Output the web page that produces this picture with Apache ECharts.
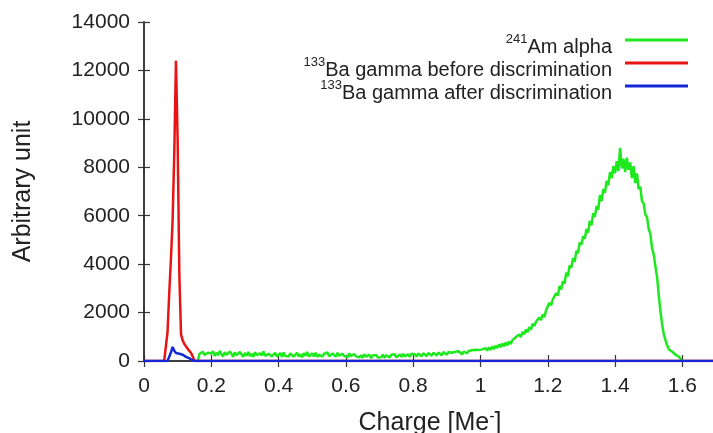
<!DOCTYPE html>
<html>
<head>
<meta charset="utf-8">
<script src="https://cdn.jsdelivr.net/npm/echarts@6/dist/echarts.min.js"></script>
<style>
html,body{margin:0;padding:0;background:#fff;}
#chart{width:713px;height:433px;}
</style>
</head>
<body>
<div id="chart"></div>
<script>
// ---- data ----
const xTicks = [0, 0.2, 0.4, 0.6, 0.8, 1, 1.2, 1.4, 1.6];
const yTicks = [0, 2000, 4000, 6000, 8000, 10000, 12000, 14000];
const seriesNames = ['241Am alpha', '133Ba gamma before discrimination', '133Ba gamma after discrimination'];
const seriesColors = ['#1ee81e', '#e81414', '#1428d8'];

// 241Am alpha: counts per bin, bins start at 0.160 with width 0.005
const amStart = 0.160;
const amStep = 0.005;
const amAlpha = [
  0,
  300, 220, 380, 250, 190, 340, 260,
  310, 400, 210, 340, 240, 420, 280, 190, 360, 250, 210, 390, 300, 170, 350, 240, 200, 380, 270, 180,
  330, 220, 370, 200, 300, 170, 360, 240, 190, 320, 230, 390, 210, 160, 300, 360, 190, 270, 340, 180,
  260, 330, 170, 350, 210, 290, 190, 310, 370, 180, 250, 340, 190, 280, 150, 320, 220, 370, 180, 260,
  310, 190, 340, 170, 260, 320, 180, 290, 220, 360, 200, 150, 310, 250, 180, 340, 220, 160, 300, 200,
  270, 160, 310, 200, 140, 290, 190, 250, 150, 240, 130, 280, 180, 140, 260, 120, 230, 160, 250, 140,
  220, 150, 270, 130, 240, 170, 140, 260, 190, 280, 150, 230, 270, 170, 290, 190, 240, 280, 170, 300,
  220, 280, 180, 310, 240, 200, 320, 250, 200, 330, 260, 220, 340, 270, 230, 350, 290, 240, 370, 300,
  260, 370, 290, 340, 270, 380, 300, 400, 330, 280, 390, 420, 320, 410, 350, 440, 360, 460, 380, 450,
  400, 480, 410, 530, 430, 560, 460, 600, 490, 630, 540, 680, 570, 720, 610, 760, 650, 810, 700, 860,
  850, 980, 900, 1100, 990, 1200, 1100, 1290, 1190, 1400, 1290, 1540, 1440, 1620, 1540, 1800, 1690, 1920, 1810, 2100,
  2150, 2400, 2300, 2550, 2480, 2800, 2700, 3100, 2950, 3300, 3200, 3650, 3500, 3950, 3850, 4250, 4100, 4550, 4450, 4900,
  4800, 5150, 5050, 5450, 5300, 5800, 5600, 6100, 5950, 6400, 6250, 6850, 6600, 7100, 6950, 7450, 7250, 7800, 7550, 8050,
  7750, 8250, 7850, 8800, 7950, 8350, 7800, 8400, 7900, 8200, 7550, 8050, 7350, 7750, 7100, 7200, 6600, 6500, 6050, 5950,
  5450, 5250, 4650, 4400, 3900, 3450, 2700, 2050, 1500, 1100, 850, 650, 480, 420, 380, 300, 260, 200, 170, 90, 0
];

// 133Ba gamma: charge bins and counts
const baCharge = [
  0.000, 0.005, 0.010, 0.015, 0.020, 0.025, 0.030, 0.035, 0.040, 0.045, 0.050, 0.055, 0.060, 0.065,
  0.070, 0.075, 0.080, 0.085, 0.090, 0.095, 0.100, 0.105, 0.110, 0.115, 0.120, 0.125, 0.130, 0.135,
  0.140, 0.145, 0.150, 0.155, 0.160, 1.700
];
const baBefore = [
  0, 0, 0, 0, 0, 0, 0, 0, 0, 0, 0, 0, 0, 0,
  1200, 2800, 4200, 5800, 8600, 12400, 9100, 3600, 1100, 850, 700, 620, 500, 420,
  330, 180, 0, 0, 0, 0
];
const baAfter = [
  0, 0, 0, 0, 0, 0, 0, 0, 0, 0, 0, 0, 0, 0,
  0, 0, 350, 580, 420, 330, 280, 300, 320, 260, 220, 170, 140, 110,
  70, 20, 0, 0, 0, 0
];

// ---- build ----
const FONT = "'Liberation Sans', Arial, Helvetica, sans-serif";
const amData = amAlpha.map((v, i) => [+(amStart + i * amStep).toFixed(3), v]);
const beforeData = baCharge.map((x, i) => [x, baBefore[i]]);
const afterData = baCharge.map((x, i) => [x, baAfter[i]]);

const chart = echarts.init(document.getElementById('chart'), null, {renderer: 'canvas'});

const axisLine = {show: true, lineStyle: {color: '#333', width: 1.5}};
const axisTick = {show: true, inside: true, length: 6, lineStyle: {color: '#333', width: 1.2}};

function legendFor(i, top) {
  return {
    data: [seriesNames[i]],
    right: 25,
    top: top,
    padding: 0,
    align: 'right',
    icon: 'rect',
    itemWidth: 63,
    itemHeight: 3,
    selectedMode: false,
    formatter: function (name) {
      const m = name.match(/^(\d+)(.*)$/);
      return '{s|' + m[1] + '}{t|' + m[2] + '}';
    },
    textStyle: {
      fontFamily: FONT,
      color: '#222',
      rich: {
        s: {fontSize: 13, lineHeight: 13, verticalAlign: 'top', padding: [3, 0, 0, 0], fontFamily: FONT, color: '#222'},
        t: {fontSize: 20, lineHeight: 20, padding: [14, 8, 0, 0], fontFamily: FONT, color: '#222'}
      }
    }
  };
}

const option = {
  backgroundColor: '#fff',
  animation: false,
  grid: {left: 144, top: 22, width: 572, height: 339, containLabel: false, outerBoundsMode: 'none'},
  legend: [legendFor(0, 23), legendFor(1, 46), legendFor(2, 69)],
  xAxis: [
    {
      type: 'value', min: 0, max: 1.7, interval: 0.2, position: 'bottom',
      axisLine: axisLine, axisTick: axisTick, splitLine: {show: false},
      axisLabel: {
        fontFamily: FONT, fontSize: 21, color: '#222', margin: 15, showMaxLabel: false,
        formatter: v => (xTicks.indexOf(+v.toFixed(1)) >= 0 ? String(+v.toFixed(1)) : '')
      },
      name: '{a|Charge [Me}{s|-}{a|]}',
      nameLocation: 'middle', nameGap: 48,
      nameTextStyle: {
        fontFamily: FONT, color: '#222',
        rich: {
          a: {fontSize: 25, lineHeight: 28, fontFamily: FONT, color: '#222'},
          s: {fontSize: 16, lineHeight: 16, verticalAlign: 'top', fontFamily: FONT, color: '#222'}
        }
      }
    },
    {
      type: 'value', min: 0, max: 1.7, interval: 0.2, position: 'top',
      axisLine: axisLine, axisTick: axisTick, splitLine: {show: false},
      axisLabel: {show: false}
    }
  ],
  yAxis: [
    {
      type: 'value', min: 0, max: 14000, interval: 2000, position: 'left',
      axisLine: axisLine, axisTick: axisTick, splitLine: {show: false},
      axisLabel: {
        fontFamily: FONT, fontSize: 21, color: '#222', margin: 14,
        formatter: v => (yTicks.indexOf(v) >= 0 ? String(v) : '')
      },
      name: 'Arbitrary unit', nameLocation: 'middle', nameGap: 108,
      nameTextStyle: {fontFamily: FONT, fontSize: 25, color: '#222'}
    },
    {
      type: 'value', min: 0, max: 14000, interval: 2000, position: 'right',
      axisLine: axisLine, axisTick: axisTick, splitLine: {show: false},
      axisLabel: {show: false}
    }
  ],
  series: [
    {
      name: seriesNames[0], type: 'line', data: amData, symbol: 'none',
      color: seriesColors[0], lineStyle: {width: 2.5, color: seriesColors[0]}, z: 2
    },
    {
      name: seriesNames[1], type: 'line', data: beforeData, symbol: 'none',
      color: seriesColors[1], lineStyle: {width: 2.5, color: seriesColors[1]}, z: 3
    },
    {
      name: seriesNames[2], type: 'line', data: afterData, symbol: 'none',
      color: seriesColors[2], lineStyle: {width: 2.5, color: seriesColors[2]}, z: 4
    }
  ]
};
chart.setOption(option);
</script>
</body>
</html>
